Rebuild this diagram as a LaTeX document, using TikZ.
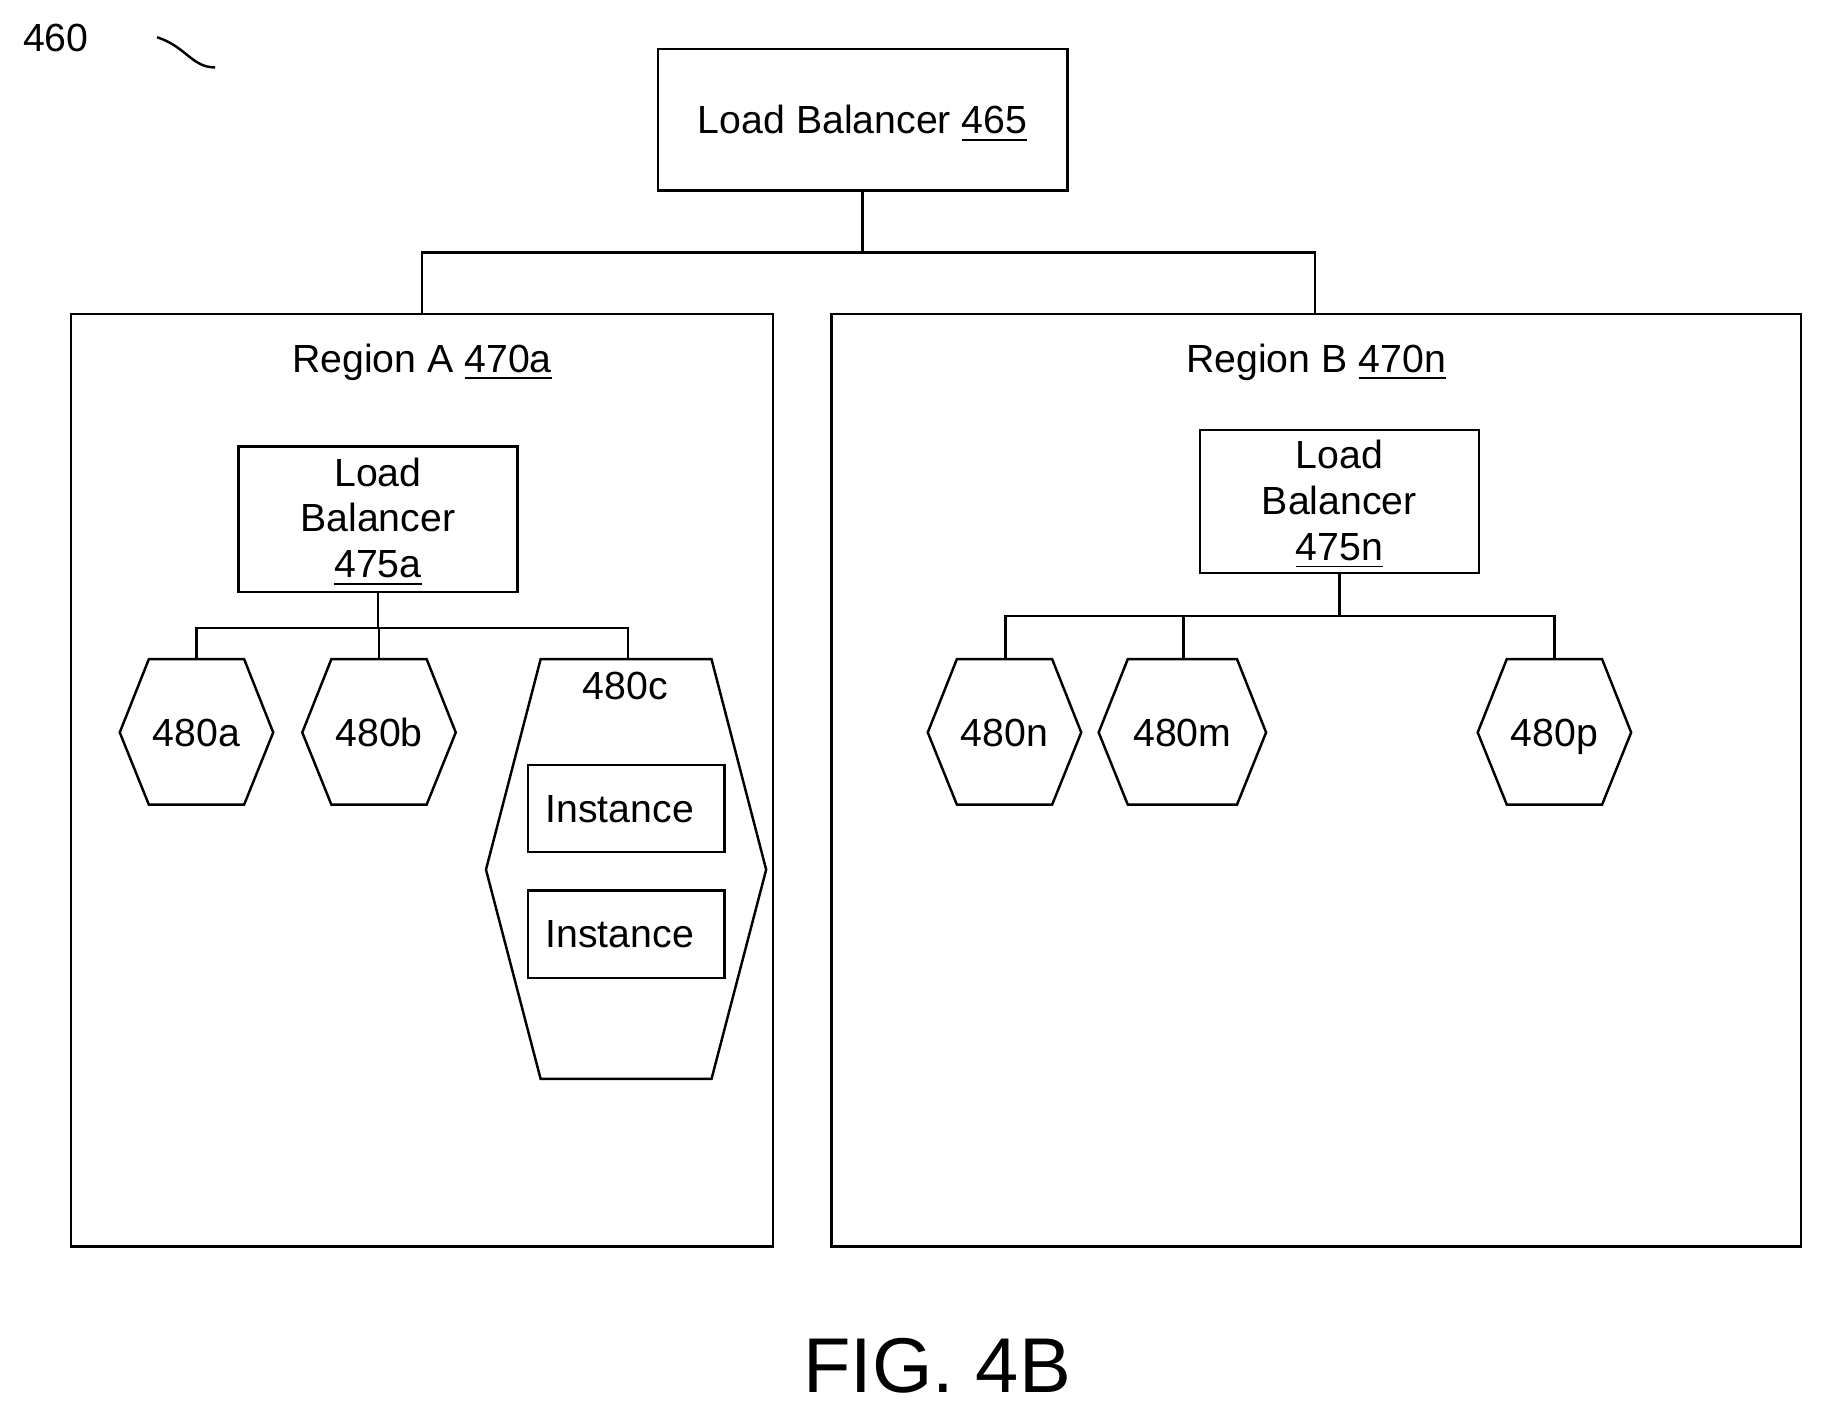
\documentclass[tikz,border=0pt]{standalone}
\usepackage{fontspec}
\setmainfont{Liberation Sans}
\begin{document}
\begin{tikzpicture}[x=0.01cm,y=-0.01cm,line width=0.6pt,
  lbl/.style={font=\fontsize{9.6}{11.2}\selectfont,align=center},
  one/.style={lbl,text height=1.6ex,text depth=0.3ex}]
\useasboundingbox (0,0) rectangle (1568,1215);
\node[one] (n460) at (48,32) {460};
\draw (135,32) .. controls (160,40) and (165,58) .. (185,58);
% top LB
\draw (566,42) rectangle (918,164);
\node[one] (lb) at (742,103) {Load Balancer \underline{465}};
\coordinate (lbB) at (742,164);
\coordinate (ra) at (363,270); \coordinate (rb) at (1131,270);
\draw (lbB) -- (742,217) -| (ra);
\draw (742,217) -| (rb);
% regions
\draw (61,270) rectangle (665,1072);
\draw (715,270) rectangle (1549,1072);
\node[one] (ta) at (363,308) {Region A \underline{470a}};
\node[one] (tb) at (1132,308) {Region B \underline{470n}};
% LB A
\draw (205,384) rectangle (445,509);
\node[lbl] (lba) at (325,449) {Load\\Balancer\\\underline{475a}};
\draw (325,509) -- (325,540);
\draw (169,567) |- (540,540) -- (540,567);
\draw (326,540) -- (326,567);
% hexagons A
\foreach \c/\t in {169/480a,326/480b}{
  \draw (\c-41,567) -- (\c+41,567) -- (\c+66,630) -- (\c+41,692) -- (\c-41,692) -- (\c-66,630) -- cycle;
  \node[one] at (\c,630) {\t};}
\draw (465,567) -- (612,567) -- (659,748) -- (612,928) -- (465,928) -- (418,748) -- cycle;
\node[one] (c480) at (538,590) {480c};
\draw (454,658) rectangle (623,733);
\node[one] (i1) at (533,695) {Instance};
\draw (454,766) rectangle (623,841);
\node[one] (i2) at (533,803) {Instance};
% LB B
\draw (1032,370) rectangle (1272,493);
\node[lbl] (lbn) at (1152,434) {Load\\Balancer\\\underline{475n}};
\draw (1152,493) -- (1152,530);
\draw (865,567) |- (1337,530) -- (1337,567);
\draw (1018,530) -- (1018,567);
\foreach \c/\t/\w in {864/480n/66,1017/480m/72,1337/480p/66}{
  \draw (\c-\w+25,567) -- (\c+\w-25,567) -- (\c+\w,630) -- (\c+\w-25,692) -- (\c-\w+25,692) -- (\c-\w,630) -- cycle;
  \node[one] at (\c,630) {\t};}
\node[font=\fontsize{19}{23}\selectfont] (fig) at (806,1175) {FIG. 4B};
\end{tikzpicture}
\end{document}
